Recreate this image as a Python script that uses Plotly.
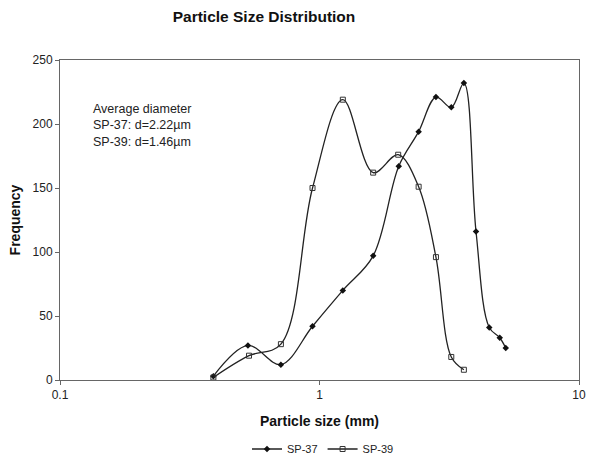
import plotly.graph_objects as go

sp37_x = [0.39, 0.53, 0.71, 0.94, 1.23, 1.61, 2.02, 2.41, 2.81, 3.22, 3.60, 4.01, 4.51, 4.95, 5.22]
sp37_y = [3, 27, 12, 42, 70, 97, 167, 194, 221, 213, 232, 116, 41, 33, 25]
sp39_x = [0.39, 0.535, 0.71, 0.94, 1.23, 1.61, 2.01, 2.41, 2.81, 3.22, 3.60]
sp39_y = [2, 19, 28, 150, 219, 162, 176, 151, 96, 18, 8]

x_ticks = [0.1, 1, 10]
x_tick_labels = ["0.1", "1", "10"]
y_ticks = [0, 50, 100, 150, 200, 250]

FONT = "Liberation Sans, Arial, Helvetica"

fig = go.Figure()
fig.add_trace(go.Scatter(
    x=sp37_x, y=sp37_y, name="SP-37", mode="lines+markers",
    line=dict(color="#222222", width=1.3, shape="spline", smoothing=1.0),
    marker=dict(symbol="diamond", size=5, color="#111111"),
))
fig.add_trace(go.Scatter(
    x=sp39_x, y=sp39_y, name="SP-39", mode="lines+markers",
    line=dict(color="#222222", width=1.3, shape="spline", smoothing=1.0),
    marker=dict(symbol="square-open", size=5, color="#333333", line=dict(width=1)),
))

fig.add_annotation(
    x=0.06, y=0.874, xref="paper", yref="paper", xanchor="left", yanchor="top",
    text="Average diameter<br>SP-37: d=2.22µm<br>SP-39: d=1.46µm",
    showarrow=False, align="left",
    font=dict(family=FONT, size=12.5, color="#222222"),
)

fig.update_layout(
    width=593, height=458,
    margin=dict(l=60, r=7, t=60, b=78),
    paper_bgcolor="white", plot_bgcolor="white",
    title=dict(text="<b>Particle Size Distribution</b>", x=264 / 593, xanchor="center",
               xref="container", y=1 - 17 / 458, yanchor="middle", yref="container",
               font=dict(family=FONT, size=15.5, color="#111111")),
    font=dict(family=FONT, size=12, color="#222222"),
    xaxis=dict(
        type="log", range=[-1, 1], tickvals=x_ticks, ticktext=x_tick_labels,
        showgrid=False, zeroline=False, showline=True, mirror=True,
        linecolor="#666666", linewidth=1, ticks="outside", ticklen=4,
        tickcolor="#666666",
        title=dict(text="<b>Particle size (mm)</b>", standoff=14,
                   font=dict(size=14, color="#111111")),
    ),
    yaxis=dict(
        range=[0, 250], tickvals=y_ticks,
        showgrid=False, zeroline=False, showline=True, mirror=True,
        linecolor="#666666", linewidth=1, ticks="outside", ticklen=4,
        tickcolor="#666666",
        title=dict(text="<b>Frequency</b>", standoff=8,
                   font=dict(size=14, color="#111111")),
    ),
    legend=dict(orientation="h", x=323 / 593, xanchor="center", xref="container",
                y=1 - 449 / 458, yanchor="middle", yref="container",
                font=dict(size=11), itemwidth=30, tracegroupgap=0),
    showlegend=True,
)

fig.write_html("out.html")
